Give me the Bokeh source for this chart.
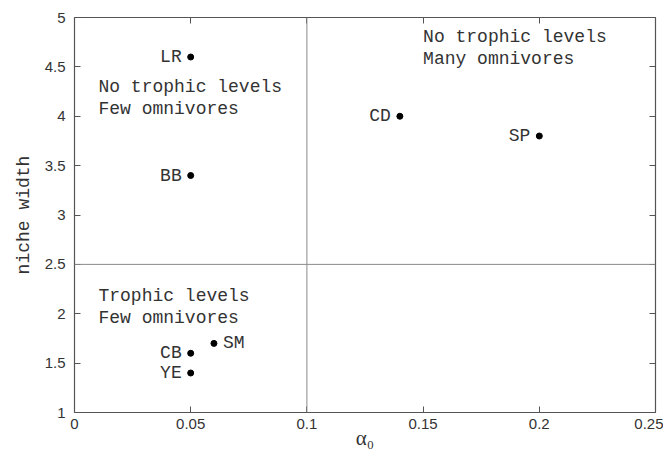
import math
from bokeh.plotting import figure
from bokeh.models import (ColumnDataSource, FixedTicker, LinearAxis, Span, Label, Range1d,
                          CustomJSTickFormatter)
from bokeh.embed import file_html
from bokeh.resources import INLINE

# ---- data ----
names = ["LR", "BB", "CD", "SP", "SM", "CB", "YE"]
alpha0 = [0.05, 0.05, 0.14, 0.20, 0.06, 0.05, 0.05]
niche_width = [4.6, 3.4, 4.0, 3.8, 1.7, 1.6, 1.4]
label_side = ["left", "left", "left", "left", "right", "left", "left"]

x_ticks = [0, 0.05, 0.1, 0.15, 0.2, 0.25]
x_tick_labels = ["0", "0.05", "0.1", "0.15", "0.2", "0.25"]
y_ticks = [1, 1.5, 2, 2.5, 3, 3.5, 4, 4.5, 5]
y_tick_labels = ["1", "1.5", "2", "2.5", "3", "3.5", "4", "4.5", "5"]

alpha_split = 0.1
width_split = 2.5

region_texts = ["No trophic levels\nMany omnivores",
                "No trophic levels\nFew omnivores",
                "Trophic levels\nFew omnivores"]
region_x = [0.150, 0.0103, 0.0103]
region_y = [4.90, 4.40, 2.28]

x_title = "α₀"
y_title = "niche width"

MONO = "Liberation Mono"
SANS = "Liberation Sans"
TXT = "#333333"
AX = "#555555"

p = figure(frame_width=581, frame_height=395, output_backend="svg",
           toolbar_location=None, x_range=Range1d(0, 0.25), y_range=Range1d(1, 5),
           min_border_left=74, min_border_top=17, min_border_bottom=39, min_border_right=8)
p.grid.visible = False
p.outline_line_color = None
p.background_fill_color = "white"
p.border_fill_color = "white"

def style(ax, show_labels):
    ax.axis_line_color = AX
    ax.axis_line_width = 1.2
    ax.major_tick_line_color = AX
    ax.major_tick_in = 6
    ax.major_tick_out = 0
    ax.minor_tick_line_color = None
    ax.major_label_text_font = SANS
    ax.major_label_text_color = TXT
    ax.major_label_text_font_size = "15px"
    if not show_labels:
        ax.formatter = CustomJSTickFormatter(code="return ''")
        ax.major_label_standoff = 0

xa = p.xaxis[0]
ya = p.yaxis[0]
xa.ticker = FixedTicker(ticks=x_ticks)
ya.ticker = FixedTicker(ticks=y_ticks)
xa.major_label_overrides = {t: s for t, s in zip(x_ticks, x_tick_labels)}
ya.major_label_overrides = {t: s for t, s in zip(y_ticks, y_tick_labels)}
style(xa, True)
style(ya, True)
xa.major_label_standoff = 6
ya.major_label_standoff = 9

xa.axis_label = x_title
xa.axis_label_text_font = "Liberation Serif"
xa.axis_label_text_font_size = "21px"
xa.axis_label_text_font_style = "normal"
xa.axis_label_text_color = TXT
xa.axis_label_standoff = -6

ya.axis_label = y_title
ya.axis_label_text_font = MONO
ya.axis_label_text_font_size = "18px"
ya.axis_label_text_font_style = "normal"
ya.axis_label_text_color = TXT
ya.axis_label_standoff = 8

top = LinearAxis(ticker=FixedTicker(ticks=x_ticks))
right = LinearAxis(ticker=FixedTicker(ticks=y_ticks))
style(top, False)
style(right, False)
p.add_layout(top, "above")
p.add_layout(right, "right")

p.add_layout(Span(location=alpha_split, dimension="height", line_color="#8a8a8a", line_width=1))
p.add_layout(Span(location=width_split, dimension="width", line_color="#8a8a8a", line_width=1))

src = ColumnDataSource(dict(x=alpha0, y=niche_width, name=names))
p.scatter("x", "y", source=src, size=6, color="black")

for n, xv, yv, side in zip(names, alpha0, niche_width, label_side):
    if side == "left":
        p.add_layout(Label(x=xv, y=yv, text=n, x_offset=-9, text_align="right",
                           text_baseline="middle", text_font=MONO, text_font_size="18px",
                           text_color=TXT))
    else:
        p.add_layout(Label(x=xv, y=yv, text=n, x_offset=9, text_align="left",
                           text_baseline="middle", text_font=MONO, text_font_size="18px",
                           text_color=TXT))

for t, xv, yv in zip(region_texts, region_x, region_y):
    p.add_layout(Label(x=xv, y=yv, text=t, text_align="left", text_baseline="top",
                       text_font=MONO, text_font_size="18px", text_color=TXT,
                       text_line_height=1.1))

open("out.html", "w").write(file_html(p, INLINE))
